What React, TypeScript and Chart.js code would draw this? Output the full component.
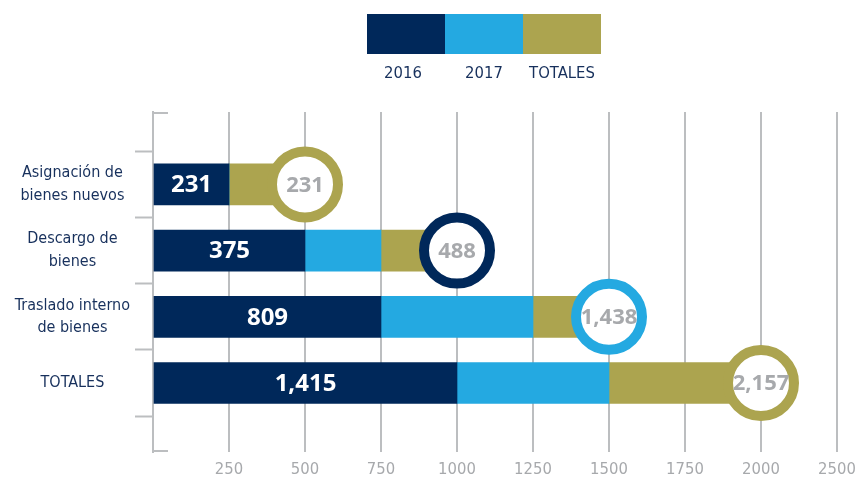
import React, { useEffect, useRef } from 'react';
import { Chart, registerables } from 'chart.js';

Chart.register(...registerables);

// ---- data ----
const CATEGORIES: string[][] = [
  ['Asignación de', 'bienes nuevos'],
  ['Descargo de', 'bienes'],
  ['Traslado interno', 'de bienes'],
  ['TOTALES'],
];
const SERIES_LABELS = ['2016', '2017', 'TOTALES'];
const BAR_2016 = [250, 500, 750, 1000];
const BAR_2017 = [0, 250, 500, 500];
const BAR_TOTALES = [250, 250, 250, 500];
const LABELS_2016 = ['231', '375', '809', '1,415'];
const LABELS_TOTAL = ['231', '488', '1,438', '2,157'];
const X_TICK_LABELS = ['250', '500', '750', '1000', '1250', '1500', '1750', '2000', '2500'];

// ---- styles ----
const NAVY = '#00285a';
const SKY = '#24a9e1';
const GOLD = '#aca44f';
const GRID = '#bcbec0';
const TEXT_GREY = '#a7a9ac';
const LABEL_NAVY = '#17305c';
const RING_COLORS = [GOLD, NAVY, SKY, GOLD];
const NARROW = '"DejaVu Sans Condensed", "Liberation Sans Narrow", sans-serif';
const NUMFONT = '"Open Sans", "DejaVu Sans", sans-serif';

const decorPlugin = {
  id: 'decor',
  afterDatasetsDraw(chart: any) {
    const ctx = chart.ctx;
    ctx.save();
    ctx.textAlign = 'center';
    ctx.textBaseline = 'middle';
    // labels inside the 2016 segment
    const m0 = chart.getDatasetMeta(0);
    ctx.font = `bold 24px ${NUMFONT}`;
    ctx.fillStyle = '#ffffff';
    m0.data.forEach((el: any, i: number) => {
      ctx.fillText(LABELS_2016[i], (el.x + el.base) / 2, el.y + 1);
    });
    // totals inside circles
    const m3 = chart.getDatasetMeta(3);
    ctx.fillStyle = TEXT_GREY;
    ctx.font = `bold 22px ${NUMFONT}`;
    m3.data.forEach((el: any, i: number) => {
      ctx.fillText(LABELS_TOTAL[i], el.x, el.y + 1);
    });
    ctx.restore();
  },
  afterDraw(chart: any) {
    const ctx = chart.ctx;
    const { left, top, bottom } = chart.chartArea;
    ctx.save();
    // axis caps
    ctx.strokeStyle = GRID;
    ctx.lineWidth = 2;
    ctx.beginPath();
    ctx.moveTo(left - 1, top + 1);
    ctx.lineTo(left + 15, top + 1);
    ctx.moveTo(left - 1, bottom - 1);
    ctx.lineTo(left + 15, bottom - 1);
    ctx.stroke();
    // legend: adjoining colour blocks with labels under them
    const colors = [NAVY, SKY, GOLD];
    const boxW = 78;
    const boxH = 40;
    const startX = 367;
    const boxTop = 14;
    ctx.textAlign = 'center';
    ctx.textBaseline = 'middle';
    ctx.font = `16.5px ${NARROW}`;
    SERIES_LABELS.forEach((lab, i) => {
      ctx.fillStyle = colors[i];
      ctx.fillRect(startX + i * boxW, boxTop, boxW, boxH);
      ctx.fillStyle = LABEL_NAVY;
      ctx.fillText(lab, startX + i * boxW + boxW / 2 - (i === 0 ? 3 : 0), 74);
    });
    ctx.restore();
  },
};

export default function App() {
  const ref = useRef<HTMLCanvasElement>(null);
  useEffect(() => {
    document.body.style.margin = '0';
    const idx = CATEGORIES.map((_, i) => i);
    const pts = (arr: number[]) => arr.map((v, i) => ({ x: v, y: idx[i] }));
    const totals = idx.map((i) => BAR_2016[i] + BAR_2017[i] + BAR_TOTALES[i]);
    const chart = new Chart(ref.current as HTMLCanvasElement, {
      type: 'bar',
      data: {
        datasets: [
          { label: SERIES_LABELS[0], data: pts(BAR_2016), backgroundColor: NAVY, barThickness: 41 } as any,
          { label: SERIES_LABELS[1], data: pts(BAR_2017), backgroundColor: SKY, barThickness: 41 } as any,
          { label: SERIES_LABELS[2], data: pts(BAR_TOTALES), backgroundColor: GOLD, barThickness: 41 } as any,
          {
            type: 'scatter',
            label: 'circles',
            stack: 'circles',
            order: -1,
            data: pts(totals),
            pointRadius: 33,
            pointBorderWidth: 10,
            pointBackgroundColor: '#ffffff',
            pointBorderColor: RING_COLORS,
            pointHoverRadius: 33,
          } as any,
        ],
      },
      options: {
        indexAxis: 'y',
        responsive: false,
        animation: false,
        events: [],
        layout: { autoPadding: false, padding: { top: 112, right: 21, left: 0, bottom: 0 } },
        plugins: { legend: { display: false }, tooltip: { enabled: false } },
        scales: {
          x: {
            type: 'linear',
            stacked: true,
            min: 0,
            max: 2250,
            border: { display: false },
            grid: { color: GRID, lineWidth: 2, drawTicks: false },
            ticks: {
              stepSize: 250,
              padding: 8,
              color: TEXT_GREY,
              font: { family: NARROW, size: 16.5 },
              callback: (_v: any, i: number) => (i === 0 ? '' : X_TICK_LABELS[i - 1]),
            },
            afterFit: (s: any) => {
              s.height = 28;
              s.paddingLeft = 0;
              s.paddingRight = 0;
            },
          },
          y: {
            type: 'linear',
            stacked: true,
            reverse: true,
            offset: false,
            min: -1.094,
            max: 4.042,
            border: { display: true, color: GRID, width: 2 },
            grid: {
              offset: false,
              drawOnChartArea: false,
              drawTicks: true,
              tickLength: 18,
              tickWidth: 2,
              tickColor: (c: any) =>
                c.tick && !Number.isInteger(c.tick.value) ? GRID : 'rgba(0,0,0,0)',
            },
            afterBuildTicks: (s: any) => {
              const t: any[] = [];
              for (let v = -0.5; v <= CATEGORIES.length - 0.5; v += 0.5) t.push({ value: v });
              s.ticks = t;
            },
            ticks: {
              autoSkip: false,
              crossAlign: 'center',
              padding: 5,
              color: LABEL_NAVY,
              font: { family: NARROW, size: 16, lineHeight: 1.42 },
              callback: (v: any) =>
                Number.isInteger(v) && CATEGORIES[v] ? CATEGORIES[v] : '',
            },
            afterFit: (s: any) => {
              s.width = 153;
              s.paddingTop = 0;
              s.paddingBottom = 0;
            },
          },
        },
      },
      plugins: [decorPlugin],
    } as any);
    return () => chart.destroy();
  }, []);
  return <canvas ref={ref} width={858} height={480} style={{ display: 'block' }} />;
}
